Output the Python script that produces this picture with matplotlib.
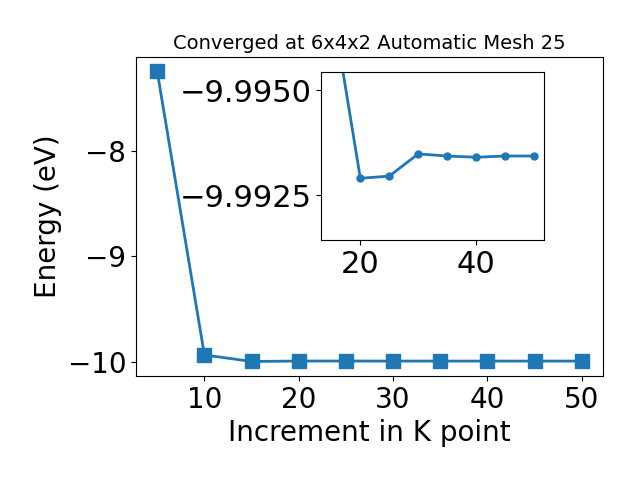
import matplotlib
matplotlib.use("Agg")
import matplotlib.pyplot as plt

# K-point convergence data
kpoints = [5, 10, 15, 20, 25, 30, 35, 40, 45, 50]
energy = [-7.248, -9.935, -9.99712, -9.99290, -9.99295, -9.99348,
          -9.99343, -9.99340, -9.99343, -9.99343]

inset_yticks = [-9.9950, -9.9925]

fig = plt.figure(figsize=(6.4, 4.8), dpi=100)
ax = fig.add_axes([0.2125, 0.2167, 0.7297, 0.6646])
ax.plot(kpoints, energy, marker='s', markersize=10, linewidth=2, color='#1f77b4')
ax.set_xlabel('Increment in K point', fontsize=20)
ax.set_ylabel('Energy (eV)', fontsize=20)
ax.set_title('Converged at 6x4x2 Automatic Mesh 25', fontsize=14)
ax.tick_params(labelsize=20)
ax.set_yticks([-8, -9, -10])
ax.set_xticks([10, 20, 30, 40, 50])

# zoomed inset of the converged region
ins = fig.add_axes([0.502, 0.5, 0.348, 0.35])
ins.plot(kpoints[2:], energy[2:], marker='o', markersize=5, linewidth=2, color='#1f77b4')
ins.set_ylim(-9.99143, -9.99543)
ins.set_yticks(inset_yticks)
ins.set_yticklabels([f"{v:.4f}".replace('-', '\u2212') for v in inset_yticks])
ins.set_xticks([20, 40])
ins.tick_params(labelsize=22)

fig.savefig('out.png', dpi=100)
